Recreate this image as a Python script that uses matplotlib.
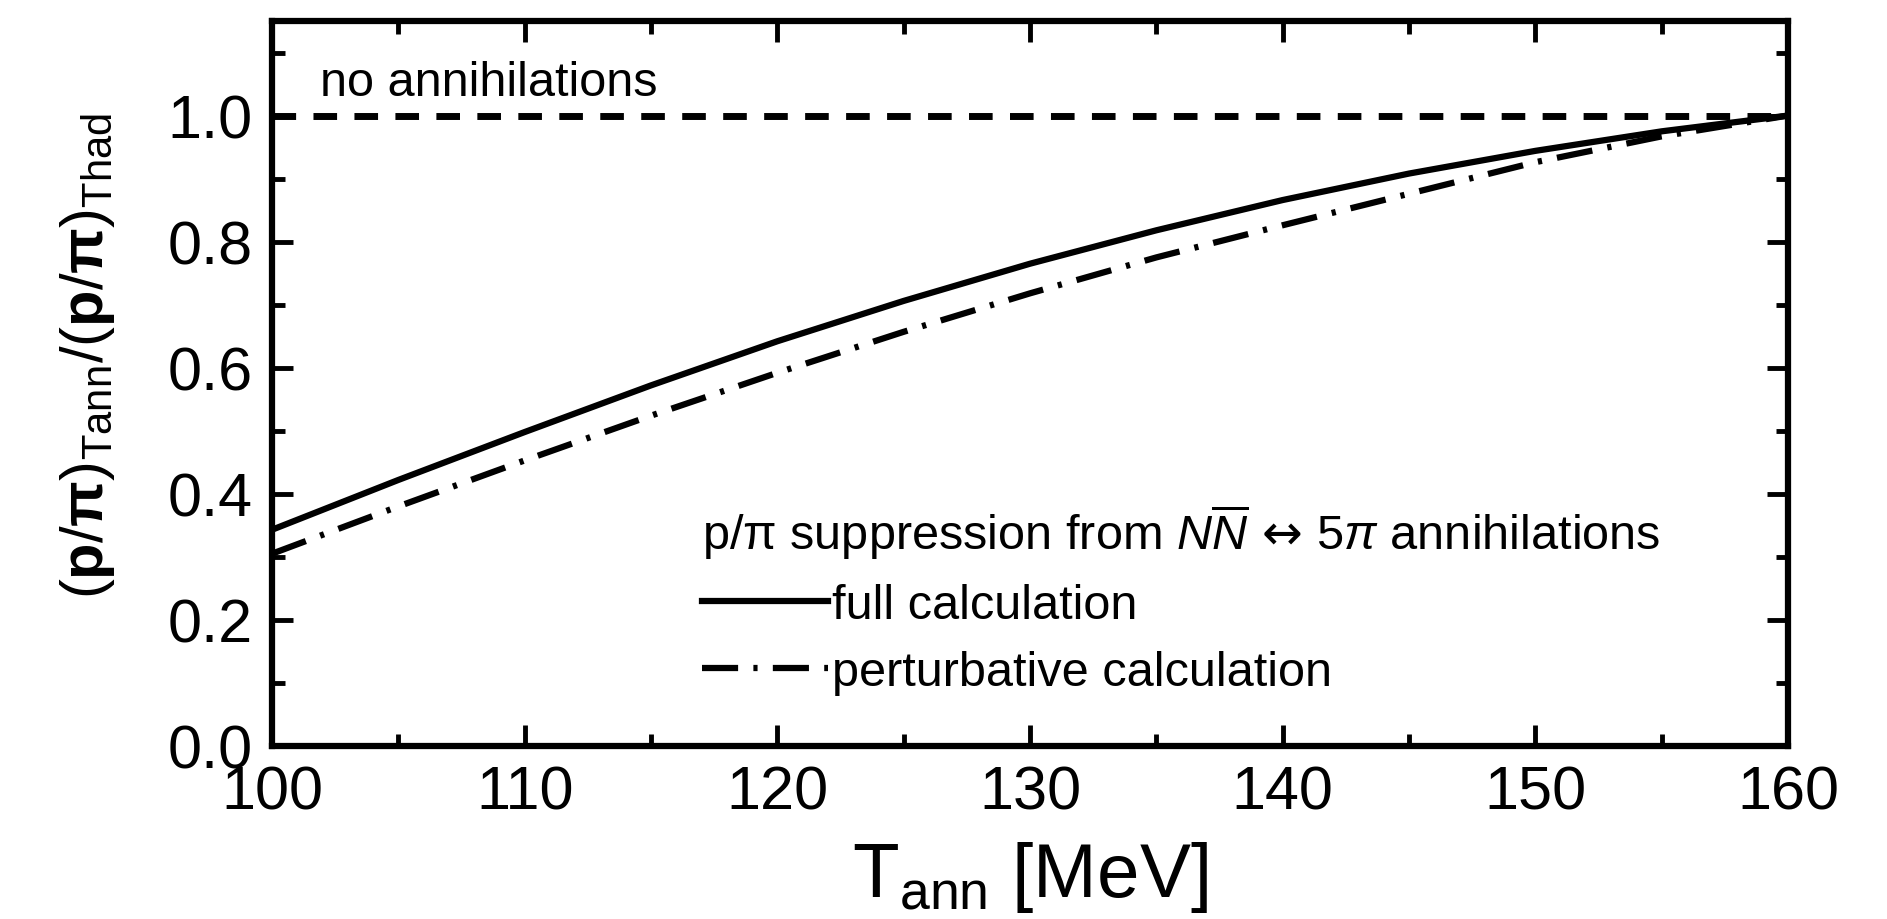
import matplotlib
matplotlib.use("Agg")
import matplotlib.pyplot as plt
from matplotlib.ticker import MultipleLocator
from matplotlib.lines import Line2D

# ---- data ----
T_ann = [100, 105, 110, 115, 120, 125, 130, 135, 140, 145, 150, 155, 160]
full_calc = [0.343, 0.422, 0.498, 0.572, 0.642, 0.706, 0.765, 0.818, 0.866, 0.908, 0.944, 0.975, 1.000]
pert_calc = [0.305, 0.380, 0.453, 0.524, 0.592, 0.657, 0.718, 0.775, 0.826, 0.876, 0.926, 0.967, 1.000]
no_ann_level = 1.0

x_ticks = [100, 110, 120, 130, 140, 150, 160]
y_ticks = [0.0, 0.2, 0.4, 0.6, 0.8, 1.0]

plt.rcParams['font.family'] = ['Liberation Sans', 'DejaVu Sans']
plt.rcParams['mathtext.fontset'] = 'custom'
plt.rcParams['mathtext.rm'] = 'Liberation Sans'
plt.rcParams['mathtext.it'] = 'Liberation Sans:italic'
plt.rcParams['mathtext.bf'] = 'Liberation Sans:bold'
plt.rcParams['mathtext.sf'] = 'DejaVu Sans'
plt.rcParams['lines.scale_dashes'] = False

W, H = 1887, 920
fig = plt.figure(figsize=(W / 100, H / 100), dpi=100)
L, R, B, TOP = 272, 1788, 747, 22
ax = fig.add_axes([L / W, (H - B) / H, (R - L) / W, (B - TOP) / H])

ax.plot(T_ann, full_calc, color='black', lw=4.5, solid_capstyle='butt', solid_joinstyle='round')
ax.plot(T_ann, pert_calc, color='black', lw=4.5, dashes=(26, 11, 3, 11), dash_capstyle='butt')
ax.axhline(no_ann_level, color='black', lw=5.0, dashes=(17, 12.5), dash_capstyle='butt')

ax.set_xlim(100, 160)
ax.set_ylim(0, 1.15)
ax.set_xticks(x_ticks)
ax.set_yticks(y_ticks)
ax.set_yticklabels([f"{v:.1f}" for v in y_ticks])
ax.xaxis.set_minor_locator(MultipleLocator(5))
ax.yaxis.set_minor_locator(MultipleLocator(0.1))

for s in ax.spines.values():
    s.set_linewidth(4.5)
ax.tick_params(which='both', direction='in', top=True, right=True, color='black')
ax.tick_params(which='major', length=15, width=3.5, labelsize=44)
ax.tick_params(which='minor', length=9, width=3.5)
ax.tick_params(axis='y', which='major', pad=14)
ax.tick_params(axis='x', which='major', pad=13)

ax.set_xlabel(r'$\mathrm{T}_{\mathrm{ann}}$ [MeV]', fontsize=55, va='baseline')
ax.xaxis.set_label_coords(0.5, (B - 897) / (B - TOP))
ax.set_ylabel(r'$(\mathbf{p}/\mathbf{\pi})_{\mathrm{Tann}}/(\mathbf{p}/\mathbf{\pi})_{\mathrm{Thad}}$',
              fontsize=43, ha='center', va='center')
ax.yaxis.set_label_coords((88 - L) / (R - L), (B - 356) / (B - TOP))

ax.text(101.9, 1.032, 'no annihilations', fontsize=35, ha='left', va='baseline')

handles = [Line2D([], [], color='black', lw=4.5),
           Line2D([], [], color='black', lw=4.5, dashes=(26, 11, 3, 11), dash_capstyle='butt')]
labels = ['full calculation', 'perturbative calculation']
leg = ax.legend(handles, labels,
                title=r'p/π suppression from $N\overline{N}\,\mathsf{\leftrightarrow}\,5\pi$ annihilations',
                title_fontsize=35, fontsize=35, frameon=False, alignment='left',
                loc='upper left', bbox_to_anchor=((702 - L) / (R - L), (B - 503) / (B - TOP)),
                borderpad=0, borderaxespad=0, handlelength=2.6, handletextpad=0.08,
                labelspacing=0.45)

fig.savefig('out.png', dpi=100)
